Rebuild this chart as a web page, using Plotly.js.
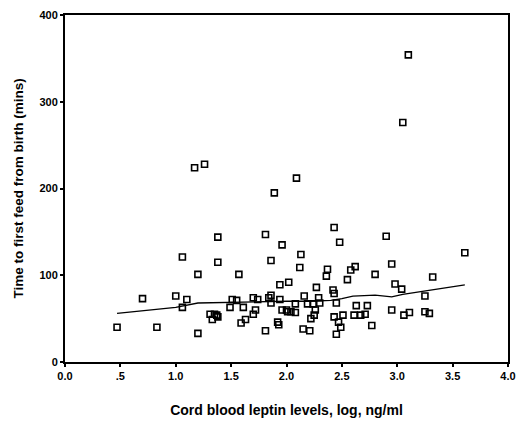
<!DOCTYPE html>
<html>
<head>
<meta charset="utf-8">
<script src="https://cdn.plot.ly/plotly-3.0.1.min.js"></script>
<style>html,body{margin:0;padding:0;background:#fff;}#chart{width:518px;height:421px;}</style>
</head>
<body>
<div id="chart"></div>
<script>
const leptinLog = [0.47,0.70,0.83,1.00,1.06,1.06,1.10,1.17,1.20,1.20,1.26,1.31,1.33,1.35,1.37,1.38,1.38,1.38,1.49,1.51,1.55,1.57,1.59,1.61,1.63,1.70,1.70,1.72,1.74,1.81,1.81,1.84,1.86,1.86,1.86,1.89,1.92,1.93,1.94,1.94,1.96,1.96,2.00,2.01,2.02,2.04,2.08,2.08,2.09,2.12,2.13,2.15,2.16,2.19,2.21,2.22,2.24,2.25,2.26,2.27,2.29,2.30,2.36,2.37,2.42,2.43,2.43,2.43,2.45,2.45,2.47,2.48,2.49,2.51,2.55,2.58,2.62,2.61,2.63,2.67,2.71,2.73,2.77,2.80,2.90,2.95,2.95,2.98,3.04,3.05,3.06,3.10,3.11,3.25,3.25,3.29,3.32,3.61];
const feedTime = [40,73,40,76,121,63,72,224,101,33,228,55,49,55,54,144,115,52,63,72,71,101,45,63,49,55,74,60,72,36,147,74,117,77,68,195,46,43,89,72,135,60,60,58,92,58,57,67,212,109,124,38,76,67,36,50,67,54,60,86,74,68,99,107,83,79,155,52,32,68,46,138,40,54,95,106,110,54,65,54,55,65,42,101,145,113,60,90,84,276,54,354,57,76,58,56,98,126];
const fitX = [0.47,0.8,1.0,1.2,1.5,1.8,2.0,2.2,2.4,2.5,2.6,2.8,2.95,3.05,3.3,3.61];
const fitY = [56,60,63,68,69,70,70,70,71,73,76,77,75,78,83,89];
const xTickVals = [0,0.5,1,1.5,2,2.5,3,3.5,4];
const xTickText = ['0.0','.5','1.0','1.5','2.0','2.5','3.0','3.5','4.0'];
const yTickVals = [0,100,200,300,400];

const font = {family:'Liberation Sans, Arial, sans-serif', color:'#000'};
const data = [
  {x:leptinLog, y:feedTime, mode:'markers', type:'scatter',
   marker:{symbol:'square-open', size:6, color:'#000', line:{width:1.6, color:'#000'}}},
  {x:fitX, y:fitY, mode:'lines', type:'scatter', line:{color:'#000', width:1.3}}
];
const layout = {
  width:518, height:421,
  margin:{l:65, r:10, t:15, b:59},
  showlegend:false,
  paper_bgcolor:'#fff', plot_bgcolor:'#fff',
  font:font,
  xaxis:{range:[0,4], tickvals:xTickVals, ticktext:xTickText, showgrid:false, zeroline:false,
    showline:true, linecolor:'#000', linewidth:2, mirror:true, ticks:'outside', ticklen:3, tickwidth:2, tickcolor:'#000',
    tickfont:{family:font.family, size:11, weight:'bold', color:'#000'},
    title:{text:'Cord blood leptin levels, log, ng/ml', font:{family:font.family, size:14, weight:'bold', color:'#000'}, standoff:24}},
  yaxis:{range:[0,400], tickvals:yTickVals, showgrid:false, zeroline:false,
    showline:true, linecolor:'#000', linewidth:2, mirror:true, ticks:'outside', ticklen:3, tickwidth:2, tickcolor:'#000',
    tickfont:{family:font.family, size:11, weight:'bold', color:'#000'},
    title:{text:'Time to first feed from birth (mins)', font:{family:font.family, size:13.5, weight:'bold', color:'#000'}, standoff:13}}
};
Plotly.newPlot('chart', data, layout, {staticPlot:true, displayModeBar:false});
</script>
</body>
</html>
